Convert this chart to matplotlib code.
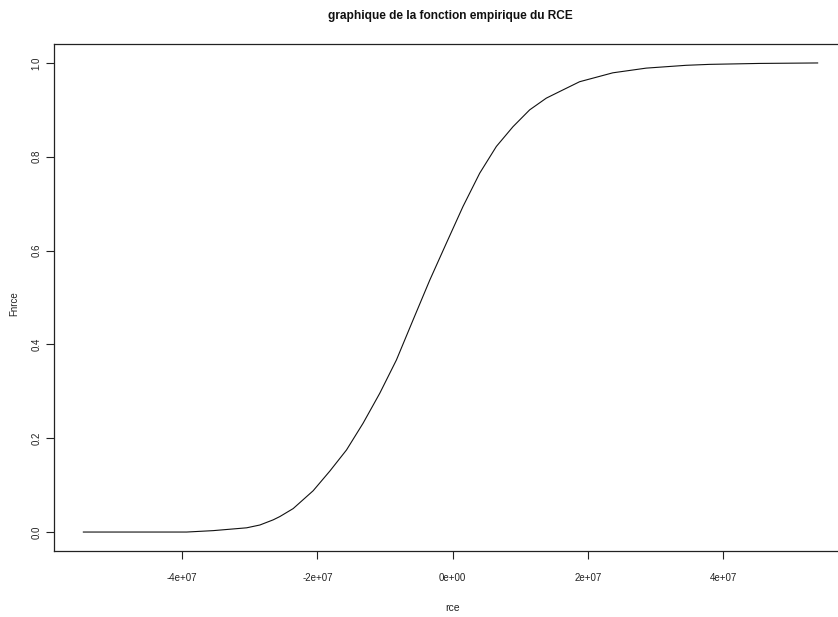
import numpy as np
import matplotlib
matplotlib.use('Agg')
import matplotlib.pyplot as plt

rce = [-5.457e7, -3.931e7, -3.538e7, -3.292e7, -3.045e7, -2.849e7, -2.652e7,
       -2.554e7, -2.357e7, -2.062e7, -1.815e7, -1.569e7, -1.324e7, -1.077e7,
       -0.831e7, -0.586e7, -0.339e7, -0.093e7, 0.152e7, 0.399e7, 0.645e7,
       0.890e7, 1.137e7, 1.383e7, 1.579e7, 1.875e7, 2.366e7, 2.859e7,
       3.449e7, 3.793e7, 4.531e7, 5.392e7]
Fnrce = [0.0, 0.0, 0.003, 0.006, 0.009, 0.015, 0.026,
         0.033, 0.050, 0.088, 0.130, 0.175, 0.232, 0.296,
         0.367, 0.452, 0.537, 0.616, 0.694, 0.765, 0.822,
         0.864, 0.900, 0.925, 0.939, 0.960, 0.979, 0.989,
         0.995, 0.997, 0.999, 1.0]

xticks = [-4e7, -2e7, 0, 2e7, 4e7]
xticklabels = ['-4e+07', '-2e+07', '0e+00', '2e+07', '4e+07']
yticks = [0.0, 0.2, 0.4, 0.6, 0.8, 1.0]

W, H = 838, 617
fig = plt.figure(figsize=(W / 100, H / 100), dpi=100)
ax = fig.add_axes([54 / W, 1 - 550.8 / H, (847 - 54) / W, (550.8 - 44.2) / H])

ax.plot(rce, Fnrce, color='#111111', lw=0.8)

# R-like axis ranges (4% padding)
rng = max(rce) - min(rce)
ax.set_xlim(min(rce) - 0.04 * rng, max(rce) + 0.04 * rng)
ax.set_ylim(-0.04, 1.04)

for s in ax.spines.values():
    s.set_color('#222222')
    s.set_linewidth(0.9)

sans = ['Liberation Sans', 'DejaVu Sans']

ax.set_xticks(xticks)
ax.set_xticklabels(xticklabels, family=sans, fontsize=7, color='#222222')
ax.set_yticks(yticks)
ax.set_yticklabels([f'{v:.1f}' for v in yticks], family=sans,
                   fontsize=7, color='#222222', rotation=90, va='center')
ax.tick_params(axis='x', length=6, width=0.8, color='#222222', pad=10)
ax.tick_params(axis='y', length=5.5, width=0.8, color='#222222', pad=3.5)

ax.set_title('graphique de la fonction empirique du RCE', family=sans,
             fontsize=8.6, fontweight='bold', color='#111111', pad=18)

fig.text(453 / W, 1 - 608 / H, 'rce', family=sans, fontsize=7.5, color='#222222',
         ha='center', va='center')
fig.text(14 / W, 1 - 304 / H, 'Fnrce', family=sans,
         fontsize=7, color='#222222', rotation=90, ha='center', va='center')

fig.savefig('out.png', dpi=100)
